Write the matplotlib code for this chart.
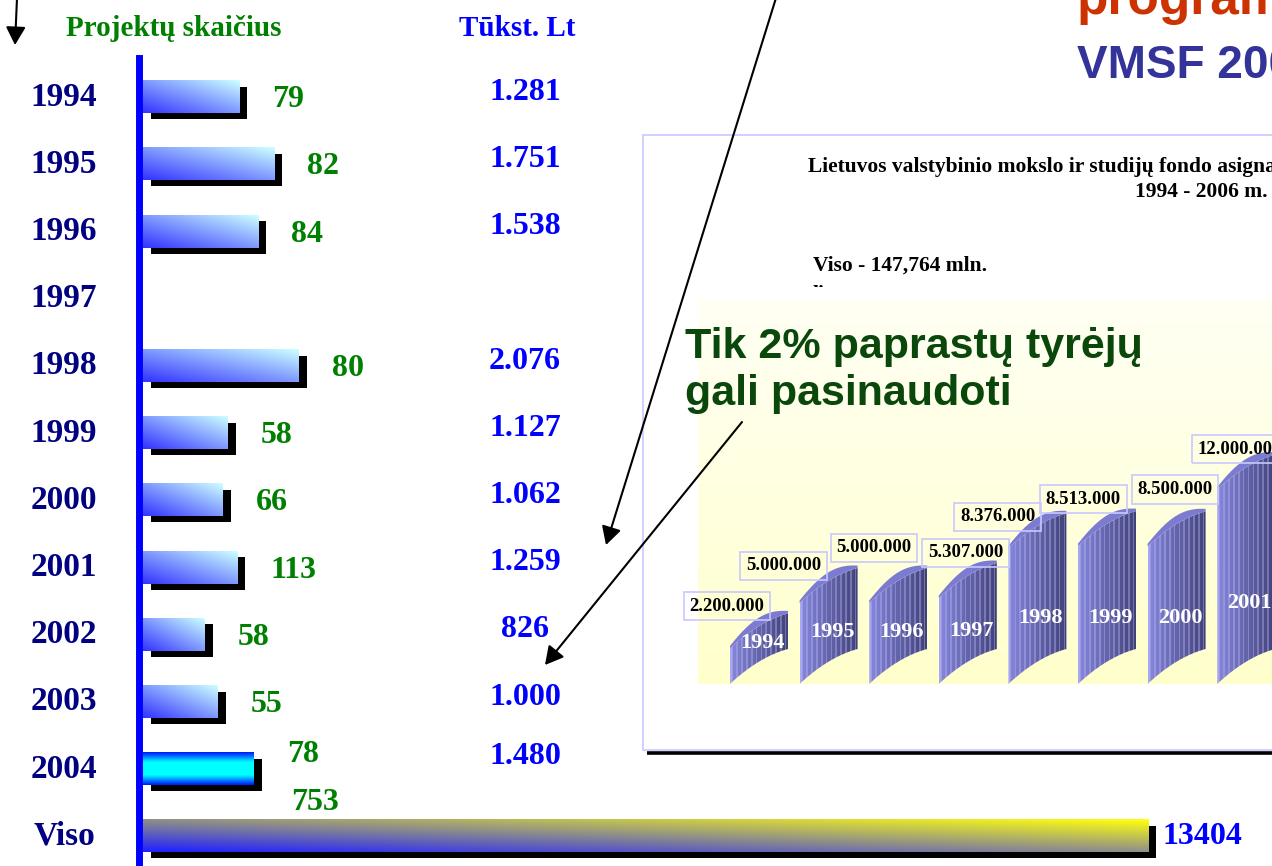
import numpy as np
import matplotlib
matplotlib.use("Agg")
import matplotlib.pyplot as plt
from matplotlib.patches import Rectangle, Polygon
from matplotlib.colors import to_rgb

plt.rcParams["font.family"] = ["Liberation Serif", "DejaVu Serif"]
plt.rcParams["font.weight"] = "bold"
SANS = ["Liberation Sans", "DejaVu Sans"]

# left chart: projects and money per year
years = ["1994", "1995", "1996", "1997", "1998", "1999", "2000",
         "2001", "2002", "2003", "2004"]
project_counts = [79, 82, 84, None, 80, 58, 66, 113, 58, 55, 78]
funds_thousand_lt = [1.281, 1.751, 1.538, None, 2.076, 1.127, 1.062,
                     1.259, 0.826, 1.000, 1.480]
total_label = "Viso"
total_projects = 753
total_funds = 13.404

# inset chart: fund appropriations, mln. Lt
inset_years = ["1994", "1995", "1996", "1997", "1998", "1999", "2000", "2001"]
inset_values_mln = [2.2, 5.0, 5.0, 5.307, 8.376, 8.513, 8.5, 12.0]

# where the value boxes sit relative to each column top (layout only)
box_dx = [-0.46, -0.65, -0.35, -0.03, -0.57, -0.34, -0.02, -0.09]
box_dy = [2.6, 2.3, 3.4, 2.8, 1.95, 2.9, 3.5, 2.5]

W, H = 1272, 866
fig = plt.figure(figsize=(W / 100, H / 100), dpi=100)
fig.patch.set_facecolor("white")


def fmt_thousands(n):
    return f"{int(round(n)):,}".replace(",", ".")


def lerp(c0, c1, s):
    c0, c1 = np.array(to_rgb(c0)), np.array(to_rgb(c1))
    s = np.clip(s, 0, 1)[..., None]
    return c0 * (1 - s) + c1 * s


# ---- background canvas in pixel units ----
canvas = fig.add_axes([0, 0, 1, 1], zorder=0)
canvas.set_xlim(0, W)
canvas.set_ylim(H, 0)
canvas.axis("off")

canvas.add_patch(Rectangle((643, 135), 700, 615, fc="white", ec="#c8c8ff", lw=1.2))
canvas.plot([647, W], [752.5, 752.5], color="black", lw=2.6, solid_capstyle="butt")

canvas.text(66, 28, "Projektų skaičius", color="#008000", fontsize=21,
            ha="left", va="center")
canvas.text(517, 28, "Tūkst. Lt", color="#0000ff", fontsize=21,
            ha="center", va="center")

canvas.text(808, 167, "Lietuvos valstybinio mokslo ir studijų fondo asignavimai",
            fontsize=15.5, ha="left", va="center", color="black")
canvas.text(1268, 192, "1994 - 2006 m.", fontsize=15.5, ha="right", va="center",
            color="black")
canvas.text(813, 266, "Viso - 147,764 mln.", fontsize=15.5, ha="left",
            va="center", color="black")
lit = canvas.text(813, 295, "litų", fontsize=15.5, ha="left", va="center",
                  color="black", clip_on=True)
lit.set_clip_path(Rectangle((800, 250), 400, 37, transform=canvas.transData))

# ---- left bar chart ----
SC = 75.0        # px per thousand Lt
X0 = 143
ROW0, ROWSTEP = 97, 67.2
ax = fig.add_axes([0, 0, 1, 1], zorder=1)
ax.axis("off")


def xpx(p):
    return (p - X0) / SC


def bar_image(kind, nx=80, ny=24):
    u = np.linspace(0, 1, nx)[None, :]
    v = np.linspace(1, 0, ny)[:, None]
    if kind == "normal":
        return lerp("#3333ff", "#ccffff", (u + v) / 2)
    if kind == "last":
        s = np.minimum(1, 1.7 * (1 - np.abs(2 * v - 1))) + 0 * u
        return lerp("#0020ff", "#00ffff", s)
    return lerp("#2020ff", "#ffff10", (u + v) / 2)


BH = 0.48
dx, dy = 8 / SC, 6 / ROWSTEP


def draw_bar(i, val, kind):
    ax.add_patch(Rectangle((dx, i - BH / 2 + dy), val, BH, fc="black",
                           ec="none", zorder=2))
    ax.imshow(bar_image(kind), extent=(0, val, i + BH / 2, i - BH / 2),
              aspect="auto", interpolation="bilinear", zorder=3)


for i, (yr, cnt, val) in enumerate(zip(years, project_counts, funds_thousand_lt)):
    ax.text(xpx(64), i, yr, ha="center", va="center", fontsize=24,
            color="#000080")
    if val is None:
        continue
    last = i == len(years) - 1
    draw_bar(i, val, "last" if last else "normal")
    ax.text(val + 33 / SC, i - 0.22 if last else i + 0.04, str(cnt),
            ha="left", va="center", fontsize=23, color="#008000")
    ax.text(xpx(525), i - 0.18 if last else i - 0.07,
            fmt_thousands(val * 1000), ha="center", va="center",
            fontsize=23, color="#0000ff")

it = len(years)
ax.text(xpx(64), it, total_label, ha="center", va="center", fontsize=24,
        color="#000080")
draw_bar(it, total_funds, "total")
ax.text(xpx(315), it - 0.5, str(total_projects), ha="center", va="center",
        fontsize=23, color="#008000")
ax.text(total_funds + 14 / SC, it, str(int(round(total_funds * 1000))),
        ha="left", va="center", fontsize=23, color="#0000ff")

ax.axvline(xpx(139), ymin=0, ymax=1 - 58 / H, color="#0000ff", lw=5, zorder=5)
ax.set_xlim(-X0 / SC, (W - X0) / SC)
ax.set_ylim((H - ROW0) / ROWSTEP, -ROW0 / ROWSTEP)

# ---- inset 3D-like column chart ----
IX0, ISTEP = 759, 69.6
IY0, ISC = 684, 16.2
L_PX, T_PX = 698, 300
ax2 = fig.add_axes([L_PX / W, (H - IY0) / H, (W - L_PX) / W, (IY0 - T_PX) / H],
                   zorder=2)
xl = ((L_PX - IX0) / ISTEP, (W - IX0) / ISTEP)
yl = (0, (IY0 - T_PX) / ISC)
ax2.axis("off")
bg = lerp("#fffff4", "#ffffcc", np.linspace(0, 1, 50))[:, None, :]
ax2.imshow(bg, extent=(xl[0], xl[1], yl[0], yl[1]), aspect="auto", zorder=0)

BW = 58 / ISTEP
SK = 35 / ISC
CAP = 6 / ISC
t = np.linspace(0, 1, 40)
f = 0.45 * t + 0.55 * (1 - (1 - t) ** 2)
ncol = 36
cols = lerp("#8686dd", "#42427a", np.linspace(0, 1, ncol))
light = np.arange(ncol) % 3 == 1
cols[light] = cols[light] * 0.6 + np.array(to_rgb("#b8b8f2")) * 0.4
cols[0] = to_rgb("#a8a8f2")
stripes = np.repeat(cols[None, :, :], 2, axis=0)

for i, (yr, v) in enumerate(zip(inset_years, inset_values_mln)):
    xs = i - BW / 2 + BW * t
    ybot = SK * f
    ytop = v + SK * f
    face = Polygon(np.column_stack([np.r_[xs, xs[::-1]], np.r_[ybot, ytop[::-1]]]),
                   closed=True, fc="none", ec="none", zorder=2)
    ax2.add_patch(face)
    im = ax2.imshow(stripes, extent=(xs[0], xs[-1], 0, v + SK), aspect="auto",
                    interpolation="nearest", zorder=2)
    im.set_clip_path(face)
    cap = ytop + CAP * np.sin(np.pi * t) + 0.15
    ax2.add_patch(Polygon(np.column_stack([np.r_[xs, xs[::-1]], np.r_[ytop, cap[::-1]]]),
                          closed=True, fc="#7b7bd2", ec="none", zorder=3))
    ax2.text(i + 0.05, SK * 0.75 + min(0.5 * v, 0.25 * v + 0.35), yr,
             color="white", fontsize=16, ha="center", va="center", zorder=5)
    ax2.text(i + box_dx[i], v + box_dy[i], fmt_thousands(v * 1e6), fontsize=13.5,
             ha="center", va="center", color="black", zorder=6,
             bbox=dict(boxstyle="square,pad=0.3", fc="none", ec="#c8c8ff", lw=1.2))

ax2.set_xlim(*xl)
ax2.set_ylim(*yl)

# ---- overlay: titles, callout text, arrows ----
top = fig.add_axes([0, 0, 1, 1], zorder=3)
top.set_xlim(0, W)
top.set_ylim(H, 0)
top.axis("off")

top.text(1077, 14, "programos", color="#cc3300", fontsize=37, family=SANS,
         ha="left", va="baseline")
top.text(1077, 78, "VMSF 2006", color="#333399", fontsize=33, family=SANS,
         ha="left", va="baseline")
top.text(685, 358, "Tik 2% paprastų tyrėjų", color="#0a470a", fontsize=31,
         family=SANS, ha="left", va="baseline")
top.text(685, 405, "gali pasinaudoti", color="#0a470a", fontsize=31,
         family=SANS, ha="left", va="baseline")

arrow = dict(arrowstyle="-|>,head_length=0.55,head_width=0.3", color="black",
             lw=1.5, shrinkA=0, shrinkB=0, mutation_scale=20)
top.annotate("", xy=(15, 45), xytext=(17, -2), arrowprops=arrow)
top.annotate("", xy=(606, 545), xytext=(776, -2), arrowprops=arrow)
top.annotate("", xy=(545, 665), xytext=(742, 422), arrowprops=arrow)

fig.savefig("out.png", dpi=100)
